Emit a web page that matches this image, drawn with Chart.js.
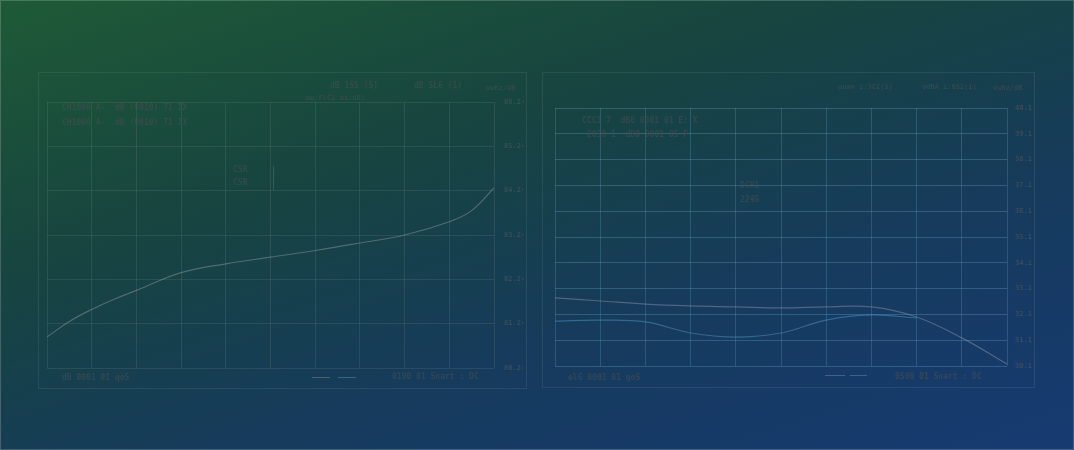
<!DOCTYPE html>
<html>
<head>
<meta charset="utf-8">
<script src="https://cdn.jsdelivr.net/npm/chart.js@4"></script>
<style>
  html, body { margin: 0; padding: 0; }
  body {
    width: 1074px; height: 450px; position: relative; overflow: hidden;
    background: linear-gradient(162deg, #1e5a36 0%, #174440 35%, #163b5c 65%, #173a72 100%);
    font-family: "DejaVu Sans Mono", monospace;
  }
  .frame { position: absolute; border: 1px solid rgba(140,160,160,0.15); box-sizing: border-box; }
  .txt { position: absolute; font-size: 8px; color: rgba(70,78,84,0.6); white-space: pre; font-weight: bold; }
  .leg { position: absolute; height: 1px; }
  canvas { position: absolute; }
</style>
</head>
<body>
<div class="frame" style="left:0;top:0;width:1074px;height:450px;border-color:rgba(200,210,210,0.25)"></div>
<div class="frame" style="left:38px;top:72px;width:489px;height:317px"></div>
<div class="frame" style="left:542px;top:72px;width:493px;height:316px"></div>

<canvas id="leftChart" width="488" height="316" style="left:38px;top:72px"></canvas>
<canvas id="rightChart" width="492" height="316" style="left:542px;top:72px"></canvas>

<!-- left panel texts -->
<span class="txt" style="left:330px;top:81px">dB 1SS (S)</span>
<span class="txt" style="left:414px;top:81px">dB SLG (1)</span>
<span class="txt" style="left:486px;top:84px;font-size:7px">vuhz/dB</span>
<span class="txt" style="left:306px;top:94px;font-size:7px">mu/F(C2 ms/dB)</span>
<span class="txt" style="left:62px;top:103px">CH1000 A-  dB (0010) T1 IX</span>
<span class="txt" style="left:62px;top:118px">CH1000 A-  dB (0010) T1 IX</span>
<span class="txt" style="left:233px;top:165px">CSR</span>
<span class="txt" style="left:233px;top:178px">CSR</span>
<div class="leg" style="left:273px;top:166px;width:1px;height:24px;background:rgba(110,130,130,0.35)"></div>
<span class="txt" style="left:62px;top:373px">dB 0001 01 qoS</span>
<div class="leg" style="left:312px;top:377px;width:18px;background:rgba(150,150,160,0.4)"></div>
<div class="leg" style="left:338px;top:377px;width:18px;background:rgba(90,150,190,0.45)"></div>
<span class="txt" style="left:392px;top:372px">0100 01 Snart : DC</span>

<!-- right panel texts -->
<span class="txt" style="left:838px;top:83px;font-size:7px">uumn 1:3C2(S)</span>
<span class="txt" style="left:922px;top:83px;font-size:7px">odBA 1:0S2(1)</span>
<span class="txt" style="left:993px;top:84px;font-size:7px">vuhz/dB</span>
<span class="txt" style="left:582px;top:116px">CCC1 7  dB0 0001 01 E: X</span>
<span class="txt" style="left:587px;top:130px">2050 1  dB0 0001 05 F</span>
<span class="txt" style="left:740px;top:181px">DCR1</span>
<span class="txt" style="left:740px;top:195px">2245</span>
<span class="txt" style="left:568px;top:373px">elG 0001 01 qoS</span>
<div class="leg" style="left:825px;top:375px;width:20px;background:rgba(150,150,170,0.4)"></div>
<div class="leg" style="left:850px;top:375px;width:17px;background:rgba(90,150,200,0.45)"></div>
<span class="txt" style="left:895px;top:372px">0S00 01 Snart : DC</span>

<script>
// left chart data
const leftX = [0, 0.5, 1, 1.5, 2, 3, 4, 5, 6, 7, 8, 9, 9.5, 10];
const leftY = [0.7, 1.05, 1.32, 1.55, 1.75, 2.15, 2.35, 2.5, 2.65, 2.82, 3.0, 3.3, 3.55, 4.06];
const leftTicks = ['80.2', '81.2', '82.2', '83.2', '84.2', '85.2', '86.2'];

// right chart data
const rightX = [0, 1, 2, 3, 4, 5, 6, 7, 8, 9, 10];
const rightUpper = [2.64, 2.52, 2.4, 2.33, 2.29, 2.25, 2.29, 2.29, 1.9, 1.09, 0.08];
const rightLowerX = [0, 1, 2, 3, 4, 5, 6, 7, 8];
const rightLower = [1.74, 1.78, 1.71, 1.28, 1.12, 1.28, 1.78, 1.98, 1.86];
const rightTicks = ['30.1', '31.1', '32.1', '33.1', '34.1', '35.1', '36.1', '37.1', '38.1', '39.1', '40.1'];

function pts(xs, ys) {
    return xs.map((x, i) => ({ x: x, y: ys[i] }));
}

const tickFont = { family: 'DejaVu Sans Mono', size: 7, weight: 'bold' };
const tickColor = 'rgba(75,85,90,0.65)';

// left
new Chart(document.getElementById('leftChart'), {
    type: 'line',
    data: {
        datasets: [{
            data: pts(leftX, leftY),
            borderColor: 'rgba(150,160,160,0.45)',
            borderWidth: 1.2,
            pointRadius: 0,
            tension: 0.4,
            fill: false,
        }],
    },
    options: {
        responsive: false,
        animation: false,
        layout: { padding: { left: 9, top: 30, bottom: 20, right: 0 } },
        plugins: { legend: { display: false }, tooltip: { enabled: false } },
        scales: {
            x: {
                type: 'linear', min: 0, max: 10,
                ticks: { display: false, stepSize: 1 },
                grid: { color: 'rgba(115,130,130,0.22)', drawTicks: false },
                border: { display: false },
                afterFit: (s) => { s.height = 0; },
            },
            y: {
                position: 'right', min: 0, max: 6,
                ticks: {
                    stepSize: 1, padding: 10, color: tickColor, font: tickFont,
                    callback: (v) => leftTicks[v] + '-',
                },
                grid: { color: 'rgba(115,130,130,0.22)', drawTicks: false },
                border: { display: false },
                afterFit: (s) => { s.width = 32; },
            },
        },
    },
});

// right
new Chart(document.getElementById('rightChart'), {
    type: 'line',
    data: {
        datasets: [{
            data: pts(rightX, rightUpper),
            borderColor: 'rgba(150,150,175,0.45)',
            borderWidth: 1.2,
            pointRadius: 0,
            tension: 0.4,
            fill: false,
        }, {
            data: pts(rightLowerX, rightLower),
            borderColor: 'rgba(80,150,200,0.5)',
            borderWidth: 1.2,
            pointRadius: 0,
            tension: 0.4,
            fill: false,
        }],
    },
    options: {
        responsive: false,
        animation: false,
        layout: { padding: { left: 13, top: 36, bottom: 22, right: 0 } },
        plugins: { legend: { display: false }, tooltip: { enabled: false } },
        scales: {
            x: {
                type: 'linear', min: 0, max: 10,
                ticks: { display: false, stepSize: 1 },
                grid: { color: 'rgba(100,160,190,0.28)', drawTicks: false },
                border: { display: false },
                afterFit: (s) => { s.height = 0; },
            },
            y: {
                position: 'right', min: 0, max: 10,
                ticks: {
                    stepSize: 1, padding: 8, color: tickColor, font: tickFont,
                    callback: (v) => rightTicks[v],
                },
                grid: { color: 'rgba(100,170,200,0.32)', drawTicks: false },
                border: { display: false },
                afterFit: (s) => { s.width = 27; },
            },
        },
    },
});
</script>
</body>
</html>
